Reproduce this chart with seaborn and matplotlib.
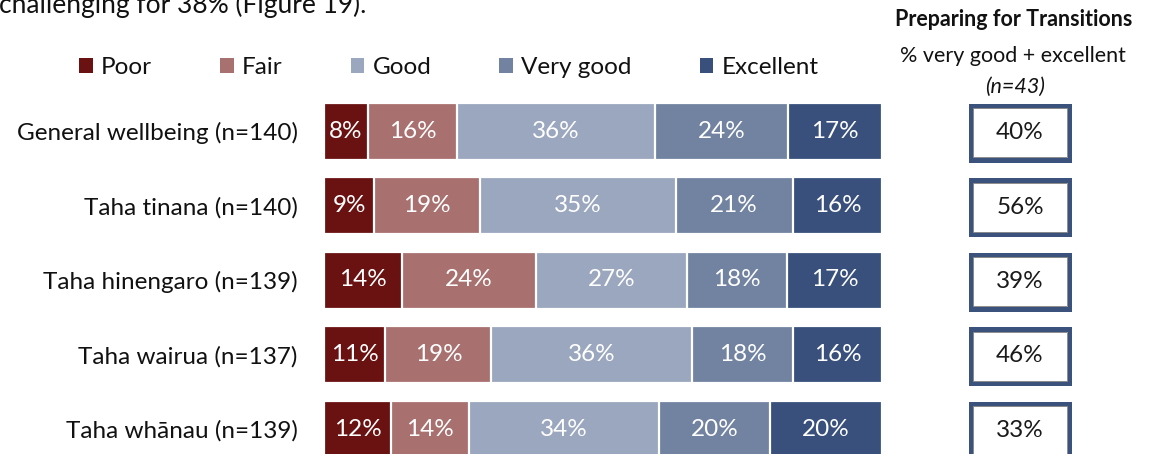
import numpy as np
import pandas as pd
import matplotlib
matplotlib.use("Agg")
import matplotlib.pyplot as plt
from matplotlib.patches import Patch, Rectangle
import seaborn as sns

# ---- data -------------------------------------------------------------
rows = [
    "General wellbeing (n=140)",
    "Taha tinana (n=140)",
    "Taha hinengaro (n=139)",
    "Taha wairua (n=137)",
    "Taha wh\u0101nau (n=139)",
]
ratings = ["Poor", "Fair", "Good", "Very good", "Excellent"]
poor = [8, 9, 14, 11, 12]
fair = [16, 19, 24, 19, 14]
good = [36, 35, 27, 36, 34]
very_good = [24, 21, 18, 18, 20]
excellent = [17, 16, 17, 16, 20]
transitions = [40, 56, 39, 46, 33]
transitions_n = 43

palette = {
    "Poor": "#6A1212",
    "Fair": "#A87170",
    "Good": "#9BA7BE",
    "Very good": "#7283A1",
    "Excellent": "#38507B",
}
box_edge = "#3A527C"

# ---- style ------------------------------------------------------------
sns.set_style("white")
plt.rcParams["font.family"] = ["Lato", "DejaVu Sans"]
FS = 17.5

W, H = 1152, 454
fig = plt.figure(figsize=(W / 100, H / 100), dpi=100)

# stacked bars: cumulative shares, drawn from the longest to the shortest
values = np.array([poor, fair, good, very_good, excellent], dtype=float).T
shares = values / values.sum(axis=1, keepdims=True) * 100
ends = np.cumsum(shares, axis=1)
starts = ends - shares

long = pd.DataFrame(
    [
        {"row": r, "rating": k, "end": ends[i, j]}
        for i, r in enumerate(rows)
        for j, k in enumerate(ratings)
    ]
)

# row layout (pixels from the top)
row0_px, pitch_px = 131.0, 74.5
y_top = -row0_px / pitch_px
y_bot = (H - row0_px) / pitch_px

ax = fig.add_axes([324 / W, 0, 558 / W, 1])
sns.barplot(
    data=long, x="end", y="row", hue="rating",
    order=rows, hue_order=ratings[::-1], palette=palette, saturation=1,
    dodge=False, width=57 / pitch_px, errorbar=None,
    edgecolor="white", linewidth=1.6, legend=False, ax=ax,
)
ax.set_xlim(0, 100)
ax.set_ylim(y_bot, y_top)
ax.set_xlabel("")
ax.set_ylabel("")
ax.set_xticks([])
for s in ax.spines.values():
    s.set_visible(False)
ax.tick_params(axis="y", length=0, pad=19, labelsize=FS, labelcolor="#111111")

for i in range(len(rows)):
    for j in range(len(ratings)):
        ax.text((starts[i, j] + ends[i, j]) / 2, i, f"{int(values[i, j])}%",
                ha="center", va="center", color="white", fontsize=FS)

# legend
handles = [Patch(facecolor=palette[k], edgecolor="none") for k in ratings]
fig.legend(
    handles, ratings, loc="center", bbox_to_anchor=(449 / W, 1 - 67.5 / H),
    ncol=5, frameon=False, fontsize=FS, handlelength=0.55, handleheight=0.55,
    handletextpad=0.35, columnspacing=2.8, labelcolor="#111111",
)

# right-hand panel: framed figures
axr = fig.add_axes([968 / W, 0, 104 / W, 1])
axr.set_xlim(0, 104)
axr.set_ylim(y_bot, y_top)
axr.axis("off")
box_h = 59 / pitch_px
lw_px = 5
for i, v in enumerate(transitions):
    cy = i + 1.5 / pitch_px
    inset = lw_px / 2 / pitch_px
    axr.add_patch(Rectangle((lw_px / 2, cy - box_h / 2 + inset), 104 - lw_px,
                            box_h - 2 * inset, facecolor="white",
                            edgecolor=box_edge, linewidth=lw_px * 0.72))
    inner = lw_px / pitch_px
    axr.add_patch(Rectangle((lw_px, cy - box_h / 2 + inner), 104 - 2 * lw_px,
                            box_h - 2 * inner, facecolor="none",
                            edgecolor="#8C8C8C", linewidth=0.7))
    axr.text(52, cy, f"{v}%", ha="center", va="center", fontsize=FS,
             color="#1A1A1A")

fig.text(1014 / W, 1 - 20 / H, "Preparing for Transitions", ha="center",
         va="center", fontsize=15.5, fontweight="bold", color="#111111")
fig.text(1013 / W, 1 - 56 / H, "% very good + excellent", ha="center",
         va="center", fontsize=15.5, color="#111111")
fig.text(1015 / W, 1 - 87 / H, f"(n={transitions_n})", ha="center",
         va="center", fontsize=15.5, style="italic", color="#111111")

# running text above the chart
fig.text(366 / W, 1 - 13 / H, "challenging for 38% (Figure 19).", ha="right",
         va="baseline", fontsize=19, color="#111111")

fig.savefig("out.png", dpi=100)
